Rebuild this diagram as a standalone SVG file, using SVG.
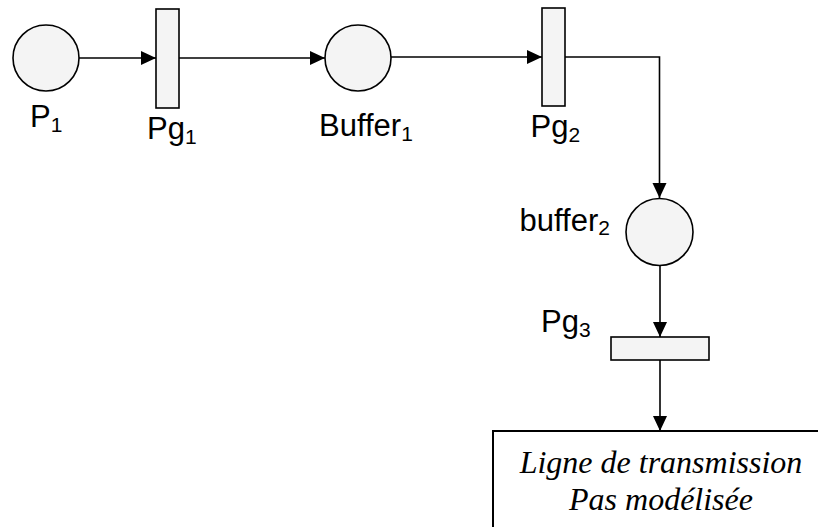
<svg xmlns="http://www.w3.org/2000/svg" width="818" height="527" viewBox="0 0 818 527">
<defs>
<style>
.place{fill:#f4f4f4;stroke:#000;stroke-width:1.6}
.trans{fill:#f4f4f4;stroke:#000;stroke-width:1.6}
.lbl{font-family:"Liberation Sans",Arial,sans-serif;font-size:31px;fill:#000}
.sub{font-size:21px}
.edge{fill:none;stroke:#000;stroke-width:1.6;marker-end:url(#arr)}
.box{fill:#fff;stroke:#000;stroke-width:2}
.boxtxt{font-family:"Liberation Serif","Times New Roman",serif;font-style:italic;font-size:32px;fill:#000;text-anchor:middle}
</style>
<marker id="arr" markerUnits="userSpaceOnUse" markerWidth="16" markerHeight="15" refX="15" refY="7" orient="auto">
<path d="M0,0 L15,7 L0,14 Z" fill="#000"/>
</marker>
</defs>
<g id="connectors">
<line class="edge" x1="79" y1="58" x2="156" y2="58"/>
<line class="edge" x1="179" y1="58" x2="325" y2="58"/>
<line class="edge" x1="391" y1="57" x2="542" y2="57"/>
<path class="edge" d="M565,57 H659.5 V198"/>
<line class="edge" x1="660" y1="266" x2="660" y2="337"/>
<line class="edge" x1="660" y1="360" x2="660" y2="431"/>
</g>
<g id="P1">
<circle class="place" cx="46" cy="58" r="33"/>
<text class="lbl" x="30" y="127">P<tspan class="sub" dy="5">1</tspan></text>
</g>
<g id="Pg1">
<rect class="trans" x="156" y="9" width="23" height="99"/>
<text class="lbl" x="147" y="139">Pg<tspan class="sub" dy="5">1</tspan></text>
</g>
<g id="Buffer1">
<circle class="place" cx="358" cy="58" r="33"/>
<text class="lbl" x="319" y="135.5">Buffer<tspan class="sub" dy="5">1</tspan></text>
</g>
<g id="Pg2">
<rect class="trans" x="542" y="8" width="23" height="98"/>
<text class="lbl" x="530.5" y="137">Pg<tspan class="sub" dy="5">2</tspan></text>
</g>
<g id="buffer2">
<circle class="place" cx="659.5" cy="232" r="33.5"/>
<text class="lbl" x="519.5" y="231">buffer<tspan class="sub" dy="4">2</tspan></text>
</g>
<g id="Pg3">
<rect class="trans" x="611" y="337" width="98" height="23"/>
<text class="lbl" x="541" y="332">Pg<tspan class="sub" dy="5">3</tspan></text>
</g>
<g id="ligne">
<rect class="box" x="493" y="431" width="400" height="200"/>
<text class="boxtxt" x="661" y="473">Ligne de transmission</text>
<text class="boxtxt" x="661" y="510">Pas modélisée</text>
</g>
</svg>
